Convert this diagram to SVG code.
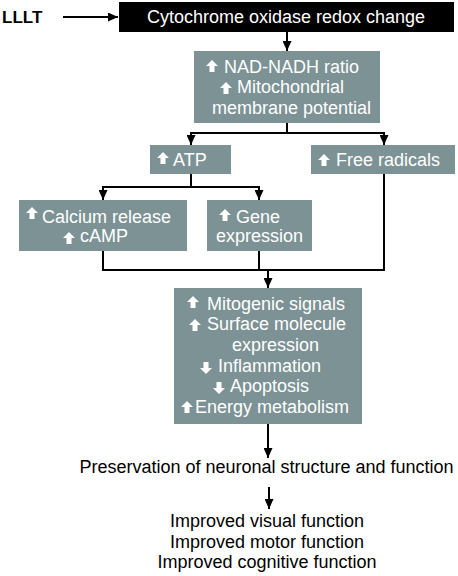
<svg xmlns="http://www.w3.org/2000/svg" xmlns:xlink="http://www.w3.org/1999/xlink" width="458" height="576" viewBox="0 0 458 576">
<style>
.box{fill:#7c9295}
.bt{font-family:"Liberation Sans",Arial,sans-serif;font-size:18px;fill:#ffffff}
.pt{font-family:"Liberation Sans",Arial,sans-serif;font-size:18px;fill:#000000}
.conn{fill:none;stroke:#000;stroke-width:2}
.ic{fill:#ffffff}
</style>
<defs>
<marker id="ah" markerUnits="userSpaceOnUse" markerWidth="10" markerHeight="9" refX="10" refY="4.5" orient="auto">
<path d="M0,0 L10,4.5 L0,9 Z" fill="#000"/>
</marker>
<path id="up" d="M6,0 L12,6 L8.5,6 L8.5,12 L3.5,12 L3.5,6 L0,6 Z"/>
<path id="down" d="M3.5,0 L8.5,0 L8.5,6 L12,6 L6,12 L0,6 L3.5,6 Z"/>
</defs>
<rect width="458" height="576" fill="#ffffff"/>

<g id="connectors" class="conn">
<path d="M63,17 H118" marker-end="url(#ah)"/>
<path d="M287,32 V51" marker-end="url(#ah)"/>
<path d="M287,123 V133"/>
<path d="M190,133 H385"/>
<path d="M191,133 V145" marker-end="url(#ah)"/>
<path d="M384,133 V145" marker-end="url(#ah)"/>
<path d="M191,174 V187"/>
<path d="M102,187 H260"/>
<path d="M103,187 V200" marker-end="url(#ah)"/>
<path d="M259,187 V200" marker-end="url(#ah)"/>
<path d="M103,251 V270 H384 V174"/>
<path d="M259,251 V270"/>
<path d="M268,270 V288" marker-end="url(#ah)"/>
<path d="M268,424 V458" marker-end="url(#ah)"/>
<path d="M269,487 V509" marker-end="url(#ah)"/>
</g>

<g id="lllt">
<text x="2" y="23" font-family="'Liberation Sans',Arial,sans-serif" font-size="17" font-weight="bold" fill="#000">LLLT</text>
</g>

<g id="cytochrome">
<rect x="119" y="2" width="335" height="30" fill="#000"/>
<text class="bt" x="286" y="23" text-anchor="middle">Cytochrome oxidase redox change</text>
</g>

<g id="nad">
<rect class="box" x="194" y="51" width="186" height="72"/>
<use href="#up" xlink:href="#up" class="ic" x="206" y="60"/>
<text class="bt" x="224" y="73">NAD-NADH ratio</text>
<use href="#up" xlink:href="#up" class="ic" x="220" y="82"/>
<text class="bt" x="237" y="93">Mitochondrial</text>
<text class="bt" x="212" y="114">membrane potential</text>
</g>

<g id="atp">
<rect class="box" x="150" y="145" width="81" height="29"/>
<use href="#up" xlink:href="#up" class="ic" x="157" y="152"/>
<text class="bt" x="173" y="166">ATP</text>
</g>

<g id="free-radicals">
<rect class="box" x="311" y="145" width="144" height="29"/>
<use href="#up" xlink:href="#up" class="ic" x="318" y="154"/>
<text class="bt" x="336" y="166">Free radicals</text>
</g>

<g id="calcium">
<rect class="box" x="19" y="200" width="168" height="51"/>
<use href="#up" xlink:href="#up" class="ic" x="26" y="207"/>
<text class="bt" x="42" y="223">Calcium release</text>
<use href="#up" xlink:href="#up" class="ic" x="63" y="232"/>
<text class="bt" x="80" y="242">cAMP</text>
</g>

<g id="gene">
<rect class="box" x="207" y="200" width="105" height="51"/>
<use href="#up" xlink:href="#up" class="ic" x="219" y="209"/>
<text class="bt" x="236" y="223">Gene</text>
<text class="bt" x="216" y="242">expression</text>
</g>

<g id="effects">
<rect class="box" x="174" y="288" width="188" height="136"/>
<use href="#up" xlink:href="#up" class="ic" x="187" y="296"/>
<text class="bt" x="207" y="310">Mitogenic signals</text>
<use href="#up" xlink:href="#up" class="ic" x="189" y="319"/>
<text class="bt" x="207" y="330">Surface molecule</text>
<text class="bt" x="232" y="351">expression</text>
<use href="#down" xlink:href="#down" class="ic" x="200" y="362"/>
<text class="bt" x="218" y="372">Inflammation</text>
<use href="#down" xlink:href="#down" class="ic" x="213" y="382"/>
<text class="bt" x="230" y="392">Apoptosis</text>
<use href="#up" xlink:href="#up" class="ic" x="181" y="401"/>
<text class="bt" x="195" y="413">Energy metabolism</text>
</g>

<g id="preservation">
<text class="pt" x="266.5" y="473" text-anchor="middle">Preservation of neuronal structure and function</text>
</g>

<g id="outcomes">
<text class="pt" x="267" y="527" text-anchor="middle">Improved visual function</text>
<text class="pt" x="267" y="548" text-anchor="middle">Improved motor function</text>
<text class="pt" x="267" y="568" text-anchor="middle">Improved cognitive function</text>
</g>
</svg>
